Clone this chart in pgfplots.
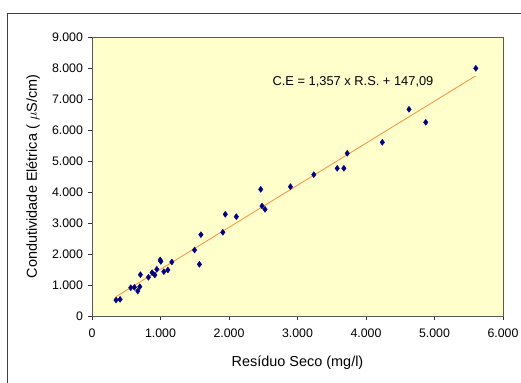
\documentclass[border=0pt]{standalone}
\usepackage{pgfplots}
\pgfplotsset{compat=1.18}
\usepackage{fontspec}
\setmainfont{Liberation Sans}
\definecolor{plotbg}{HTML}{FFFFCC}
\definecolor{navy}{HTML}{000080}
\definecolor{trend}{HTML}{FF8C3C}
\begin{document}
\begin{tikzpicture}
\useasboundingbox (0bp,0bp) rectangle (521bp,383bp);
\draw[black!75, line width=0.9bp] (7bp,-20bp) -- (7bp,370bp) -- (540bp,370bp);
\begin{axis}[
  at={(92bp,67bp)}, anchor=south west,
  scale only axis, width=411bp, height=279bp,
  xmin=0, xmax=6000, ymin=0, ymax=9000,
  xtick={0,1000,...,6000}, ytick={0,1000,...,9000},
  tick align=outside, tick pos=left, major tick length=4bp,
  axis background/.style={fill=plotbg},
  axis line style={draw=gray!70!black, line width=0.7bp},
  tick style={draw=black!80, line width=0.7bp},
  /pgf/number format/.cd, 1000 sep={.}, assume math mode=true,
  /pgfplots/.cd,
  ticklabel style={font=\fontsize{12.4}{14}\selectfont},
  xticklabel style={yshift=-5.5bp},
  yticklabel style={xshift=-1.5bp},
  xlabel={Resíduo Seco (mg/l)},
  ylabel={Condutividade Elétrica ( $\mu$S/cm)},
  label style={font=\fontsize{14.5}{16}\selectfont},
  xlabel style={at={(axis description cs:0.5,-0.168)}, anchor=center},
  ylabel style={at={(axis description cs:-0.1436,0.5)}, anchor=center},
  clip=false,
]
\addplot[trend, line width=0.8bp] coordinates {(350,622) (5600,7746)};
\addplot[only marks, mark=diamond*, mark size=3bp, navy, mark options={fill=navy, draw=navy}] coordinates {
(351,516) (410,538) (566,913) (619,925) (668,806) (698,946) (707,1333)
(824,1248) (878,1398) (917,1323) (946,1506) (995,1807) (1005,1760)
(1049,1430) (1107,1484) (1166,1742) (1497,2129) (1568,1667) (1590,2623)
(1910,2700) (1946,3281) (2107,3205) (2463,4087) (2482,3549) (2526,3442)
(2897,4172) (3238,4560) (3580,4764) (3677,4764) (3726,5248) (4238,5603)
(4628,6668) (4872,6249) (5603,7991)
};
\node[anchor=west, font=\fontsize{12.9}{14}\selectfont, inner sep=0pt] at (axis cs:2634,7559) {C.E = 1,357 x R.S. + 147,09};
\end{axis}
\end{tikzpicture}
\end{document}
